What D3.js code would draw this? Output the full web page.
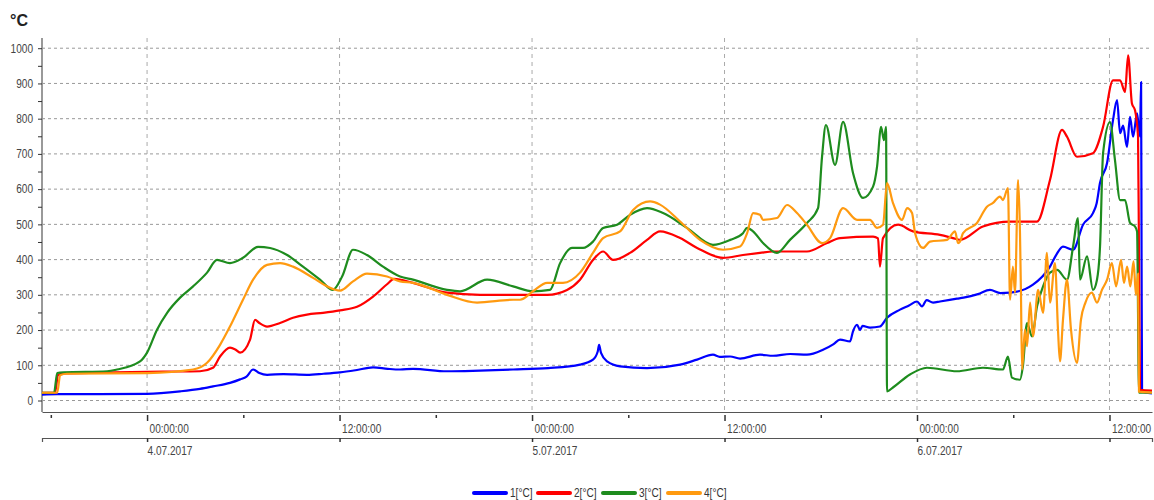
<!DOCTYPE html>
<html>
<head>
<meta charset="utf-8">
<script src="https://cdn.jsdelivr.net/npm/d3@7"></script>
<style>
  body { margin: 0; background: #fff; }
  text { font-family: "Liberation Sans Narrow", "Arial Narrow", "Liberation Sans", Arial, sans-serif; }
</style>
</head>
<body>
<svg></svg>
<script>
// hours since 4.07.2017 00:00, temperature
const series1 = [[-6.55,17],[-5.6,18],[-3,18],[0,19],[2.06,26],[3.3,33],[4.11,40],[5.17,50],[5.8,60],[6.2,68],[6.61,88],[7.0,78],[7.48,73],[8.5,75],[9.97,73],[11,76],[12.03,80],[13,86],[14.09,94],[15,90],[15.77,88],[16.58,90],[18.7,83],[20.76,85],[22.82,88],[25,92],[26.99,102],[27.8,116],[28.1,140],[28.18,158],[28.3,135],[28.68,111],[29.49,97],[31.17,92],[33.23,102],[34.29,116],[35.28,130],[35.7,124],[36.35,125],[36.97,119],[38.21,130],[39.02,127],[40.1,132],[41.14,130],[42.14,144],[42.8,160],[43.2,173],[43.83,168],[44.0,195],[44.26,215],[44.45,200],[44.6,212],[45.07,207],[45.69,210],[46.13,235],[46.94,258],[47.5,270],[48.0,281],[48.31,267],[48.6,285],[49.0,278],[49.43,281],[50.49,289],[50.9,292],[51.8,302],[52.55,314],[53.2,305],[53.8,306],[55.23,329],[56.29,380],[56.7,415],[57.1,437],[57.73,428],[58.35,499],[58.97,532],[59.2,560],[59.41,618],[59.85,674],[60.22,796],[60.47,853],[60.66,759],[60.85,780],[61.09,720],[61.28,805],[61.47,749],[61.72,815],[61.9,750],[61.97,904],[62.0,400],[62.03,25],[62.65,20]];
const series2 = [[-6.55,22],[-5.74,22],[-5.55,72],[-5.2,77],[-2,80],[1,82],[3.3,83],[4.11,93],[4.55,125],[5.17,150],[5.5,145],[5.8,136],[6.42,173],[6.73,229],[7.0,220],[7.48,210],[8.29,220],[9.1,235],[9.97,244],[10.97,249],[12.03,256],[13.09,266],[14.09,295],[14.96,330],[15.4,345],[16.58,334],[18.7,306],[20.76,300],[24.94,300],[26.18,314],[26.99,343],[27.8,399],[28.43,423],[29.05,399],[30.11,419],[31.17,456],[31.98,480],[33.23,461],[34.29,433],[35.91,405],[37.15,413],[38.21,419],[39.02,423],[41.14,423],[42.39,447],[43.2,461],[45.26,465],[45.57,460],[45.69,380],[45.88,461],[46.82,499],[47.75,480],[49.43,470],[50.24,461],[50.68,456],[52.11,494],[53.8,508],[55.48,508],[56.29,626],[57.04,768],[57.35,749],[57.97,692],[58.97,702],[59.6,777],[60.22,909],[60.66,909],[60.97,876],[61.16,980],[61.4,843],[61.59,824],[61.78,749],[61.84,400],[61.9,30],[62.65,28]];
const series3 = [[-6.55,22],[-5.8,22],[-5.6,78],[-5.2,80],[-2.49,83],[-1.87,88],[-0.44,111],[0,136],[0.62,201],[1.25,249],[2.06,292],[2.87,324],[3.74,363],[4.36,399],[5.17,390],[5.98,405],[6.92,436],[7.67,433],[8.73,413],[9.72,380],[10.78,343],[11.59,314],[12.16,352],[12.84,428],[13.71,413],[14.71,380],[15.77,352],[16.58,343],[18.7,314],[19.51,310],[21.2,343],[22.82,324],[24.06,310],[25.12,314],[25.75,390],[26.49,433],[27.18,433],[27.8,451],[28.43,490],[29.3,499],[30.11,527],[31.17,546],[32.17,532],[33.66,490],[35.28,442],[36.35,456],[37.15,475],[37.41,490],[37.78,480],[38.4,447],[39.27,419],[40.08,456],[41.14,504],[41.83,546],[42.08,692],[42.32,782],[42.89,669],[43.39,791],[44.01,646],[44.64,575],[45.26,607],[45.51,664],[45.76,777],[45.94,739],[46.07,777],[46.13,26],[46.5,37],[47.56,74],[48.62,93],[50.49,83],[52.11,93],[53.36,88],[53.67,125],[53.92,65],[54.42,59],[54.6,97],[54.86,220],[55.17,182],[55.48,267],[55.86,324],[56.29,363],[56.73,371],[57.35,343],[57.73,437],[58.04,518],[58.16,343],[58.6,409],[58.97,314],[59.22,343],[59.41,437],[59.6,702],[60.03,790],[60.34,683],[60.66,569],[60.97,569],[61.28,504],[61.59,494],[61.72,480],[61.84,22],[62.65,22]];
const series4 = [[-6.55,22],[-5.6,22],[-5.42,72],[-5.0,76],[0,78],[2.87,88],[3.74,107],[4.55,158],[5.17,210],[5.98,286],[6.61,343],[7.48,385],[8.29,390],[9.1,380],[10.35,348],[11.22,324],[12.03,312],[12.84,338],[13.71,360],[14.96,352],[15.77,338],[16.58,334],[18.7,300],[20.57,278],[22.82,286],[23.25,286],[24.06,310],[24.94,334],[25.93,334],[26.99,363],[27.8,419],[28.43,461],[29.49,480],[30.3,541],[31.36,565],[31.98,556],[33.23,508],[34.47,456],[35.91,428],[36.97,437],[37.41,475],[37.78,532],[38.21,527],[38.4,513],[39.27,518],[39.9,555],[40.52,532],[41.14,499],[42.08,447],[42.58,461],[43.39,546],[44.26,513],[45.07,513],[45.51,490],[45.88,499],[46.13,617],[46.5,561],[47.07,513],[47.38,546],[47.69,532],[47.88,475],[48.38,433],[48.81,451],[49.87,456],[50.37,480],[50.56,447],[50.68,451],[50.87,475],[51.74,504],[52.36,550],[52.74,561],[53.17,579],[53.36,569],[53.67,603],[53.8,286],[53.98,380],[54.11,306],[54.3,626],[54.42,475],[54.48,306],[54.55,88],[54.73,201],[54.86,154],[55.05,278],[55.23,182],[55.55,314],[55.86,249],[56.1,419],[56.29,278],[56.6,390],[56.79,200],[56.91,111],[57.1,229],[57.35,343],[57.6,201],[57.97,107],[58.22,229],[58.5,278],[58.9,306],[59.22,278],[59.53,314],[59.85,343],[60.15,390],[60.41,324],[60.72,399],[60.9,334],[61.1,380],[61.3,324],[61.5,395],[61.65,300],[61.78,360],[61.84,25],[62.65,22]];

const seriesNames = ["1[°C]", "2[°C]", "3[°C]", "4[°C]"];
const seriesColors = ["#0000ff", "#ff0000", "#1e8c1e", "#ff9a10"];
const yTicks = [0, 100, 200, 300, 400, 500, 600, 700, 800, 900, 1000];

const svgWidth = 1154, svgHeight = 500;
const plotLeft = 42, plotRight = 1152, plotTop = 38, plotBottom = 412;
const base = new Date(2017, 6, 4, 0, 0, 0);
const toDate = h => new Date(base.getTime() + h * 3600e3);

const svg = d3.select("svg").attr("width", svgWidth).attr("height", svgHeight);

const x = d3.scaleTime().domain([toDate(-6.55), toDate(62.65)]).range([plotLeft, plotRight]);
const y = d3.scaleLinear().domain([-32.6, 1029]).range([plotBottom, plotTop]);

//grid
svg.append("g").selectAll("line").data(yTicks).enter().append("line")
    .attr("x1", plotLeft).attr("x2", plotRight)
    .attr("y1", d => y(d)).attr("y2", d => y(d))
    .attr("stroke", "#999").attr("stroke-dasharray", "3,3");

const halfDays = d3.timeHour.every(12).range(x.domain()[0], x.domain()[1]);
svg.append("g").selectAll("line").data(halfDays).enter().append("line")
    .attr("x1", d => x(d)).attr("x2", d => x(d))
    .attr("y1", plotTop).attr("y2", plotBottom)
    .attr("stroke", "#aaa").attr("stroke-dasharray", "4,4");

//y axis
const yAxis = d3.axisLeft(y).tickValues(d3.range(0, 1001, 50)).tickSize(4)
    .tickFormat(d => d % 100 === 0 ? d : "");
const gy = svg.append("g").attr("transform", `translate(${plotLeft},0)`).call(yAxis);
gy.select(".domain").attr("d", `M0,${plotTop}V${plotBottom}`).attr("stroke", "#999").attr("stroke-width", 2);
gy.selectAll(".tick line").attr("stroke", "#333");
gy.selectAll(".tick text").attr("font-size", 12).attr("fill", "#444").attr("x", -9);

//x axis: time
const sixHours = d3.timeHour.every(6).range(x.domain()[0], x.domain()[1]);
const xAxis = d3.axisBottom(x).tickValues(sixHours).tickSize(0)
    .tickFormat(d => d.getHours() % 12 === 0 ? d3.timeFormat("%H:%M:%S")(d) : "");
const gx = svg.append("g").attr("transform", `translate(0,${plotBottom})`).call(xAxis);
gx.select(".domain").attr("stroke", "#555").attr("stroke-width", 1.2);
gx.selectAll(".tick line")
    .attr("y1", 3)
    .attr("y2", d => d.getHours() % 12 === 0 ? 9 : 6)
    .attr("stroke", "#333").attr("stroke-width", 1.5);
gx.selectAll(".tick text").attr("font-size", 12).attr("fill", "#444")
    .attr("text-anchor", "start").attr("x", 2).attr("y", 12);

//x axis: date
const xAxis2 = d3.axisBottom(x).tickValues(halfDays).tickSize(4)
    .tickFormat(d => d.getHours() === 0 ? `${d.getDate()}.${d3.timeFormat("%m.%Y")(d)}` : "");
const gx2 = svg.append("g").attr("transform", `translate(0,438)`).call(xAxis2);
gx2.select(".domain").attr("stroke", "#555").attr("stroke-width", 1.2);
gx2.selectAll(".tick line").attr("stroke", "#333").attr("stroke-width", 1.5);
gx2.selectAll(".tick text").attr("font-size", 12).attr("fill", "#444")
    .attr("text-anchor", "start").attr("x", 0).attr("y", 8);

//lines
const line = d3.line().curve(d3.curveMonotoneX).x(d => x(toDate(d[0]))).y(d => y(d[1]));
[series1, series2, series3, series4].forEach((s, i) => {
    svg.append("path").datum(s)
        .attr("fill", "none")
        .attr("stroke", seriesColors[i])
        .attr("stroke-width", 2.2)
        .attr("stroke-linejoin", "round")
        .attr("d", line);
});

//legend
const legendX = [474, 538, 603, 668];
const legend = svg.append("g");
seriesNames.forEach((name, i) => {
    legend.append("line")
        .attr("x1", legendX[i]).attr("x2", legendX[i] + 32)
        .attr("y1", 493).attr("y2", 493)
        .attr("stroke", seriesColors[i]).attr("stroke-width", 4).attr("stroke-linecap", "round");
    legend.append("text")
        .attr("x", legendX[i] + 36).attr("y", 497)
        .attr("font-size", 12).attr("fill", "#333")
        .text(name);
});

// narrow look: squeeze the labels a bit (no narrow font installed)
svg.selectAll("text").each(function () {
    const w = this.getComputedTextLength();
    if (w > 0) d3.select(this).attr("textLength", w * 0.84).attr("lengthAdjust", "spacingAndGlyphs");
});

//unit
svg.append("text").attr("x", 10).attr("y", 26)
    .attr("font-size", 16).attr("font-weight", "bold").attr("fill", "#222")
    .style("font-family", "Liberation Sans, Arial, sans-serif")
    .text("°C");
</script>
</body>
</html>
